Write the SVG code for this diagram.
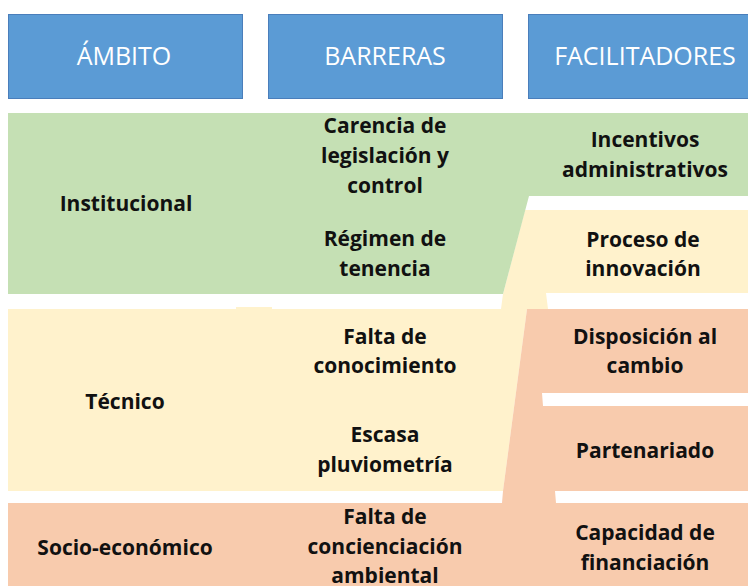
<svg xmlns="http://www.w3.org/2000/svg" width="748" height="586" viewBox="0 0 748 586">
<style>
.hdr{fill:#5B9BD5;stroke:#4A7EBB;stroke-width:1}
.ht{font-family:"Open Sans","Liberation Sans",sans-serif;font-size:25px;fill:#FFFFFF;text-anchor:middle}
.t{font-family:"Open Sans","Liberation Sans",sans-serif;font-size:21px;font-weight:bold;fill:#111111;text-anchor:middle}
.green{fill:#C5E0B4}
.yellow{fill:#FFF2CC}
.orange{fill:#F8CBAD}
</style>
<rect width="748" height="586" fill="#FFFFFF"/>
<g id="bands">
<polygon id="band-yellow" class="yellow" points="525,210 748,210 748,293 546,293 548,309 527,309 503,491 8,491 8,309 236,309 236,307 272,307 272,309 501,309 503,294"/>
<polygon id="band-orange" class="orange" points="527,309 748,309 748,393 542,393 543,406 748,406 748,491 555,491 556,503 748,503 748,586 8,586 8,503 502,503 503,491"/>
<polygon id="band-green" class="green" points="8,113 748,113 748,196 529,196 503,294 8,294"/>
</g>
<g id="header-ambito"><rect class="hdr" x="8.5" y="14.5" width="234" height="84"/><text class="ht" x="124" y="65">ÁMBITO</text></g>
<g id="header-barreras"><rect class="hdr" x="268.5" y="14.5" width="234" height="84"/><text class="ht" x="385" y="65">BARRERAS</text></g>
<g id="header-facilitadores"><rect class="hdr" x="528.5" y="14.5" width="230" height="84"/><text class="ht" x="645" y="65">FACILITADORES</text></g>
<g id="ambito-institucional"><text class="t" x="126" y="211">Institucional</text></g>
<g id="ambito-tecnico"><text class="t" x="125" y="409">Técnico</text></g>
<g id="ambito-socioeconomico"><text class="t" x="125" y="555">Socio-económico</text></g>
<g id="barrera-carencia"><text class="t" x="385" y="133">Carencia de</text><text class="t" x="385" y="163">legislación y</text><text class="t" x="385" y="193">control</text></g>
<g id="barrera-regimen"><text class="t" x="385" y="246">Régimen de</text><text class="t" x="385" y="276">tenencia</text></g>
<g id="barrera-conocimiento"><text class="t" x="385" y="344">Falta de</text><text class="t" x="385" y="373">conocimiento</text></g>
<g id="barrera-pluviometria"><text class="t" x="385" y="442">Escasa</text><text class="t" x="385" y="472">pluviometría</text></g>
<g id="barrera-concienciacion"><text class="t" x="385" y="524">Falta de</text><text class="t" x="385" y="554">concienciación</text><text class="t" x="385" y="583">ambiental</text></g>
<g id="facilitador-incentivos"><text class="t" x="645" y="147">Incentivos</text><text class="t" x="645" y="177">administrativos</text></g>
<g id="facilitador-proceso"><text class="t" x="643" y="247">Proceso de</text><text class="t" x="643" y="276">innovación</text></g>
<g id="facilitador-disposicion"><text class="t" x="645" y="344">Disposición al</text><text class="t" x="645" y="373">cambio</text></g>
<g id="facilitador-partenariado"><text class="t" x="645" y="458">Partenariado</text></g>
<g id="facilitador-capacidad"><text class="t" x="645" y="540">Capacidad de</text><text class="t" x="645" y="570">financiación</text></g>
<g id="connectors"/>
</svg>
